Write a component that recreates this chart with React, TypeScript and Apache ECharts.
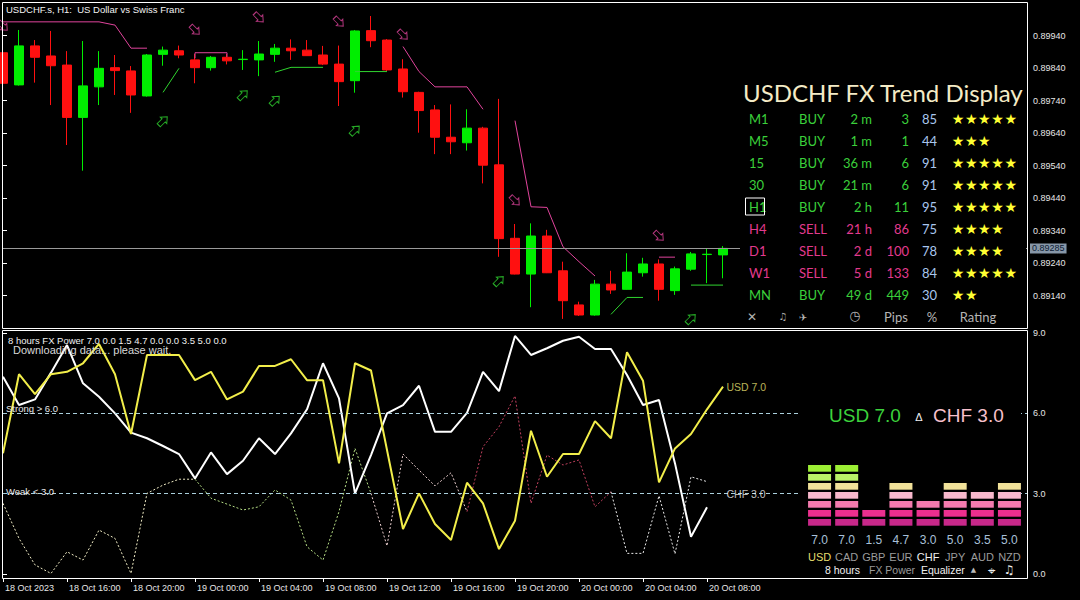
import React, { useEffect, useRef } from 'react';
import * as echarts from 'echarts';

// ---------- main price panel: USDCHF.s H1, 18 Oct 2023 12:00 onwards ----------
const timeTicks = [
  '18 Oct 2023', '18 Oct 16:00', '18 Oct 20:00', '19 Oct 00:00', '19 Oct 04:00', '19 Oct 08:00',
  '19 Oct 12:00', '19 Oct 16:00', '19 Oct 20:00', '20 Oct 00:00', '20 Oct 04:00', '20 Oct 08:00',
];
const TICK_STEP = 4; // one time label every 4 hourly bars
const SLOTS = 64; // bar slots across the chart width

// [open, close, low, high]
const candles: [number, number, number, number][] = [
  [0.89887, 0.89793, 0.89785, 0.89895],
  [0.89788, 0.89908, 0.89786, 0.89957],
  [0.89908, 0.89873, 0.89795, 0.89926],
  [0.89877, 0.89847, 0.89726, 0.89954],
  [0.89849, 0.89688, 0.89603, 0.89892],
  [0.89688, 0.89785, 0.89524, 0.89923],
  [0.89782, 0.89839, 0.89726, 0.89892],
  [0.89841, 0.89832, 0.89757, 0.8988],
  [0.89831, 0.89757, 0.89702, 0.89846],
  [0.89754, 0.8988, 0.89752, 0.89883],
  [0.89882, 0.89895, 0.89847, 0.89906],
  [0.89893, 0.8988, 0.8987, 0.89909],
  [0.89865, 0.89841, 0.89793, 0.89883],
  [0.89841, 0.89873, 0.89832, 0.89877],
  [0.89873, 0.89862, 0.89851, 0.89883],
  [0.89866, 0.89867, 0.89834, 0.89895],
  [0.89865, 0.89883, 0.89815, 0.89923],
  [0.89882, 0.89901, 0.89859, 0.89914],
  [0.89901, 0.89893, 0.89865, 0.89928],
  [0.89895, 0.89878, 0.89877, 0.89926],
  [0.8988, 0.89852, 0.89849, 0.89908],
  [0.89852, 0.89798, 0.89723, 0.89909],
  [0.89801, 0.89954, 0.89764, 0.89957],
  [0.89955, 0.89924, 0.89904, 0.9],
  [0.89926, 0.89834, 0.89831, 0.89929],
  [0.89837, 0.89767, 0.89749, 0.89867],
  [0.89765, 0.89709, 0.89641, 0.89767],
  [0.89711, 0.89627, 0.89575, 0.89726],
  [0.89627, 0.89613, 0.89575, 0.89728],
  [0.8961, 0.89655, 0.89586, 0.89713],
  [0.89655, 0.89541, 0.89485, 0.89659],
  [0.89542, 0.89315, 0.89259, 0.89745],
  [0.89316, 0.89206, 0.89205, 0.8936],
  [0.89206, 0.89323, 0.89104, 0.89362],
  [0.89323, 0.8921, 0.89209, 0.89342],
  [0.89216, 0.89124, 0.89068, 0.89244],
  [0.89111, 0.8908, 0.89077, 0.89121],
  [0.8908, 0.89175, 0.89078, 0.89188],
  [0.89175, 0.89157, 0.89145, 0.89216],
  [0.89159, 0.89212, 0.89158, 0.8927],
  [0.8921, 0.89237, 0.89198, 0.89256],
  [0.89237, 0.89159, 0.89124, 0.89251],
  [0.89155, 0.89222, 0.89142, 0.89229],
  [0.89221, 0.89268, 0.89216, 0.89274],
  [0.89266, 0.89267, 0.89178, 0.89285],
  [0.89265, 0.89285, 0.89193, 0.89292],
];

// trend-signal arrows: [bar, price]
const sellArrows: [number, number][] = [
  [0, 0.89969], [12, 0.89957], [16, 0.89995], [21, 0.89982], [25, 0.89942], [32, 0.89432], [41, 0.89323],
];
const buyArrows: [number, number][] = [
  [10, 0.89677], [15, 0.89757], [17, 0.8974], [22, 0.89648], [31, 0.89185], [43, 0.89068],
];

// trailing stop lines: segments of [bar, price]
const resistanceTrail: [number, number][][] = [
  [[0, 0.89982], [6, 0.89982], [7, 0.89972], [8, 0.89901], [9, 0.89901]],
  [[12, 0.8987], [12, 0.89887], [14, 0.89887], [14, 0.89874]],
  [[25, 0.89906], [26, 0.89829], [27, 0.89782], [29, 0.89782], [30, 0.89713]],
  [[32, 0.89678], [33, 0.89413], [34, 0.89411], [35, 0.8929], [36, 0.89244], [37, 0.892]],
  [[41, 0.89258], [42, 0.89258]],
];
const supportTrail: [number, number][][] = [
  [[10, 0.89765], [11, 0.89839]],
  [[17, 0.89827], [18, 0.89842], [20, 0.89842]],
  [[22, 0.89829], [24, 0.89829]],
  [[38, 0.89082], [39, 0.89134], [40, 0.89134]],
  [[43, 0.89172], [45, 0.89172]],
];

// ---------- trend display table ----------
const frames = ['M1', 'M5', '15', '30', 'H1', 'H4', 'D1', 'W1', 'MN'];
const signals = ['BUY', 'BUY', 'BUY', 'BUY', 'BUY', 'SELL', 'SELL', 'SELL', 'BUY'];
const ages = ['2 m', '1 m', '36 m', '21 m', '2 h', '21 h', '2 d', '5 d', '49 d'];
const pips = [3, 1, 6, 6, 11, 86, 100, 133, 449];
const percents = [85, 44, 91, 91, 95, 75, 78, 84, 30];
const ratings = [5, 3, 5, 5, 5, 4, 4, 5, 2];
const activeFrame = 'H1';

// ---------- FX power panel ----------
// strength of each currency per hourly bar (0..9)
const usdStrength = [
  4.51, 7.46, 6.72, 7.46, 7.55, 7.87, 8.59, 7.46, 5.23, 8.18, 8.18, 8.18, 7.24, 7.55, 6.52, 6.81,
  7.77, 7.77, 8.02, 7.24, 7.24, 4.13, 7.87, 7.6, 4.63, 1.68, 3.01, 1.87, 1.27, 3.41, 2.64, 0.93,
  1.99, 5.35, 3.63, 4.48, 4.48, 5.71, 5.07, 8.28, 7.22, 3.42, 4.69, 5.23, 6.15, 7.0,
];
const chfStrength = [
  7.37, 6.31, 6.52, 7.52, 8.55, 7.12, 6.62, 6.0, 5.28, 5.07, 4.78, 4.48, 3.57, 4.54, 3.73, 4.23,
  5.07, 4.48, 5.25, 6.15, 7.87, 6.56, 3.01, 4.44, 6.0, 6.31, 7.03, 5.31, 5.31, 6.02, 7.55, 6.83,
  8.89, 8.18, 8.43, 8.71, 8.86, 8.4, 8.4, 7.43, 6.31, 6.5, 4.13, 1.39, 2.49,
];
// thinner dotted strength traces: [bar, value]
const dottedPale: [number, number][] = [
  [0, 2.64], [1, 1.33], [2, 0.34], [3, 0.02], [4, 0.83], [5, 0.52], [6, 1.64], [7, 1.33], [8, 0.02],
  [9, 3.01], [10, 3.32], [11, 3.54], [12, 3.54],
];
const dottedGreen: [number, number][] = [
  [12, 3.54], [13, 2.83], [14, 2.61], [15, 2.39], [16, 2.51], [17, 3.14], [18, 2.76], [19, 1.02],
  [20, 0.52], [21, 2.33], [22, 4.69], [23, 3.01],
];
const dottedRose: [number, number][] = [
  [23, 3.01], [24, 1.05], [25, 4.48], [26, 3.88], [27, 3.29], [28, 3.78], [29, 2.33],
];
const dottedCrimson: [number, number][] = [
  [29, 2.33], [30, 4.75], [31, 5.5], [32, 6.65], [33, 2.64], [34, 4.44], [35, 4.07], [36, 4.26],
  [37, 2.51], [38, 3.07],
];
const dottedWhite: [number, number][] = [
  [38, 3.07], [39, 0.77], [40, 0.77], [41, 2.92], [42, 0.75], [43, 3.63], [44, 3.45],
];
const strongLevel = 6;
const weakLevel = 3;

// equalizer
const currencies = ['USD', 'CAD', 'GBP', 'EUR', 'CHF', 'JPY', 'AUD', 'NZD'];
const strengths = [7.0, 7.0, 1.5, 4.7, 3.0, 5.0, 3.5, 5.0];
const powerHeader = '8 hours FX Power 7.0 0.0 1.5 4.7 0.0 0.0 3.5 5.0 0.0';
const baseCcy = 'USD';
const quoteCcy = 'CHF';

// ---------- styling ----------
const BULL = '#00ee00';
const BEAR = '#ff1010';
const TRAIL_PINK = '#e0449c';
const TRAIL_GREEN = '#2fd42f';
const TBL_GREEN = '#3bd03b';
const TBL_PINK = '#e23a8e';
const TBL_BLUE = '#a9c6ee';
const STAR = '#ffff33';
const SANS = 'Liberation Sans';
const levelColors = ['#c8288a', '#ec2f8e', '#f47aae', '#f8b8cc', '#f2e29a', '#b9f267', '#9cef34'];

function txt(text: string, x: number, y: number, fill: string, font: string, align = 'left') {
  return {
    type: 'text',
    x,
    y,
    z: 30,
    silent: true,
    style: { text, fill, font, align, textAlign: align, verticalAlign: 'middle', textVerticalAlign: 'middle' },
  };
}

function buildGraphics() {
  const els: any[] = [];
  // panel frames
  els.push({ type: 'rect', silent: true, z: 30, shape: { x: 2.5, y: 2.5, width: 1025, height: 326 }, style: { fill: 'none', stroke: '#ffffff', lineWidth: 1 } });
  els.push({ type: 'rect', silent: true, z: 30, shape: { x: 2.5, y: 330.5, width: 1025, height: 248 }, style: { fill: 'none', stroke: '#ffffff', lineWidth: 1 } });
  // backdrops of the table and the equalizer box, they hide guides passing behind
  els.push({ type: 'rect', silent: true, z: 10, shape: { x: 740, y: 78, width: 286, height: 249 }, style: { fill: '#000000' } });
  els.push({ type: 'rect', silent: true, z: 10, shape: { x: 800, y: 392, width: 221, height: 185 }, style: { fill: '#000000' } });

  els.push(txt('USDCHF.s, H1:  US Dollar vs Swiss Franc', 6, 9.5, '#f2f2f2', `9.5px ${SANS}`));

  // trend display table
  els.push(txt('USDCHF FX Trend Display', 743, 92, '#f4ebc6', '24px Lato'));
  const tf = '13px Lato';
  frames.forEach((f, i) => {
    const y = 118.5 + 22 * i;
    const c = signals[i] === 'SELL' ? TBL_PINK : TBL_GREEN;
    els.push(txt(f, 749, y, c, tf));
    els.push(txt(signals[i], 799, y, c, tf));
    els.push(txt(ages[i], 872, y, c, tf, 'right'));
    els.push(txt(String(pips[i]), 909, y, c, tf, 'right'));
    els.push(txt(String(percents[i]), 922, y, TBL_BLUE, tf));
    for (let s = 0; s < ratings[i]; s++) {
      els.push(txt('★', 958 + 13.2 * s, y, STAR, '14px DejaVu Sans', 'center'));
    }
    if (f === activeFrame) {
      els.push({ type: 'rect', silent: true, z: 30, shape: { x: 745.5, y: y - 8.5, width: 19, height: 17 }, style: { fill: 'none', stroke: '#ffffff', lineWidth: 1 } });
    }
  });
  const fy = 316.5;
  const foot = '#b4b4b4';
  els.push(txt('✕', 752, fy, foot, '12px DejaVu Sans', 'center'));
  els.push(txt('♫', 783, fy, foot, '10px DejaVu Sans', 'center'));
  els.push(txt('✈', 803, fy + 1, foot, '10px DejaVu Sans', 'center'));
  els.push(txt('◷', 855, fy - 1, foot, '13px DejaVu Sans', 'center'));
  els.push(txt('Pips', 896, fy, foot, tf, 'center'));
  els.push(txt('%', 932, fy, foot, tf, 'center'));
  els.push(txt('Rating', 978, fy, foot, tf, 'center'));

  // FX power panel texts
  els.push(txt(powerHeader, 8, 340, '#f0f0f0', `9.5px ${SANS}`));
  els.push(txt('Downloading data... please wait.', 13, 350, '#d8d8d8', `11px ${SANS}`));
  els.push(txt(`Strong > ${strongLevel.toFixed(1)}`, 6, 408, '#e8e8e8', `9.5px ${SANS}`));
  els.push(txt(`Weak < ${weakLevel.toFixed(1)}`, 6, 491, '#e8e8e8', `9.5px ${SANS}`));

  const bi = currencies.indexOf(baseCcy);
  const qi = currencies.indexOf(quoteCcy);
  els.push(txt(`${baseCcy} ${strengths[bi].toFixed(1)}`, 829, 415, '#3cd23c', `19px ${SANS}`));
  els.push(txt('Δ', 919, 417, '#f0f0f0', `11px ${SANS}`, 'center'));
  els.push(txt(`${quoteCcy} ${strengths[qi].toFixed(1)}`, 933, 415, '#f8c0cc', `19px ${SANS}`));

  const ey = 570;
  els.push(txt('8 hours', 825, ey, '#f0f0f0', `10.5px ${SANS}`));
  els.push(txt('FX Power', 869, ey, '#9a9a9a', `10.5px ${SANS}`));
  els.push(txt('Equalizer', 921, ey, '#f0f0f0', `10.5px ${SANS}`));
  els.push(txt('▲', 973.5, ey, '#bbbbbb', '7px DejaVu Sans', 'center'));
  els.push(txt('⌖', 991, ey, '#f0f0f0', '13px DejaVu Sans', 'center'));
  els.push(txt('♫', 1009, ey, '#f0f0f0', '12px DejaVu Sans', 'center'));
  return els;
}

function dotted(data: [number, number][], color: string) {
  return {
    type: 'line',
    xAxisIndex: 1,
    yAxisIndex: 1,
    data,
    symbol: 'none',
    silent: true,
    lineStyle: { color, width: 1, type: [2, 2] },
    z: 3,
  };
}

function trail(seg: [number, number][], color: string) {
  return {
    type: 'line',
    xAxisIndex: 0,
    yAxisIndex: 0,
    data: seg,
    symbol: 'none',
    silent: true,
    lineStyle: { color, width: 1 },
    z: 4,
  };
}

const ARROW = 'path://M0,3 L8,3 L8,0 L14,6 L8,12 L8,9 L0,9 Z';

function buildOption(): any {
  const lastIdx = candles.length - 1;
  const lastClose = candles[lastIdx][1];
  const showTick = (index: number) => index % TICK_STEP === 0 && index / TICK_STEP < timeTicks.length;
  const slotNames = Array.from({ length: SLOTS + 1 }, (_, i) => String(i));

  return {
    animation: false,
    backgroundColor: '#000000',
    grid: [
      { left: 3, top: 3, width: 1024, height: 325 },
      { left: 3, top: 333, width: 1024, height: 241 },
      { left: 806, top: 465, width: 217, height: 63 },
    ],
    xAxis: [
      { type: 'value', gridIndex: 0, min: 0, max: SLOTS, show: false },
      { type: 'value', gridIndex: 1, min: 0, max: SLOTS, show: false },
      {
        type: 'category',
        gridIndex: 1,
        position: 'bottom',
        offset: 4,
        boundaryGap: false,
        data: slotNames,
        axisLine: { show: false },
        axisTick: { show: true, interval: showTick, length: 4, lineStyle: { color: '#ffffff' } },
        axisLabel: {
          interval: showTick,
          align: 'left',
          margin: 5,
          padding: [0, 0, 0, 2],
          color: '#e6e6e6',
          fontSize: 9,
          fontFamily: SANS,
          formatter: (_v: string, index: number) => timeTicks[index / TICK_STEP] ?? '',
        },
        splitLine: { show: false },
      },
      {
        type: 'category',
        gridIndex: 2,
        data: currencies,
        axisLine: { show: false },
        axisTick: { show: false },
        axisLabel: {
          interval: 0,
          hideOverlap: false,
          margin: 3,
          fontFamily: SANS,
          formatter: (v: string, i: number) => {
            const tag = v === baseCcy ? 'b' : v === quoteCcy ? 'q' : 'o';
            return `{v|${strengths[i].toFixed(1)}}\n{${tag}|${v}}`;
          },
          rich: {
            v: { color: '#a9c0d9', fontSize: 12, fontFamily: SANS, lineHeight: 17 },
            b: { color: '#e6de6e', fontSize: 11, fontFamily: SANS, lineHeight: 17 },
            q: { color: '#f0f0f0', fontSize: 11, fontFamily: SANS, lineHeight: 17 },
            o: { color: '#9c9c9c', fontSize: 11, fontFamily: SANS, lineHeight: 17 },
          },
        },
        z: 20,
      },
    ],
    yAxis: [
      {
        type: 'value',
        gridIndex: 0,
        position: 'right',
        min: 0.8904,
        max: 0.9004,
        interval: 0.001,
        axisLine: { show: false },
        splitLine: { show: false },
        axisTick: { show: true, length: 4, lineStyle: { color: '#ffffff' } },
        axisLabel: {
          margin: 6,
          color: '#e6e6e6',
          fontSize: 9,
          fontFamily: SANS,
          showMinLabel: false,
          showMaxLabel: false,
          formatter: (v: number) => v.toFixed(5),
        },
      },
      {
        type: 'value',
        gridIndex: 1,
        position: 'right',
        min: 0,
        max: 9,
        interval: 3,
        axisLine: { show: false },
        splitLine: { show: false },
        axisTick: { show: true, length: 4, lineStyle: { color: '#ffffff' } },
        axisLabel: { margin: 6, color: '#e6e6e6', fontSize: 9, fontFamily: SANS, formatter: (v: number) => v.toFixed(1) },
      },
      { type: 'value', gridIndex: 2, min: 0, max: 7, show: false },
    ],
    graphic: buildGraphics(),
    series: [
      // last traded price guide
      {
        type: 'line',
        xAxisIndex: 0,
        yAxisIndex: 0,
        data: [[lastIdx, lastClose]],
        symbol: 'none',
        silent: true,
        lineStyle: { width: 0 },
        z: 2,
        markLine: {
          silent: true,
          precision: 5,
          symbol: ['none', 'none'],
          lineStyle: { color: '#9a9a9a', width: 1, type: 'solid' },
          label: {
            show: true,
            position: 'end',
            distance: 3,
            formatter: () => lastClose.toFixed(5),
            backgroundColor: '#8797a8',
            color: '#0c1a33',
            fontSize: 9,
            fontFamily: SANS,
            padding: [1, 2, 0, 2],
          },
          data: [{ yAxis: lastClose }],
        },
      },
      {
        type: 'candlestick',
        xAxisIndex: 0,
        yAxisIndex: 0,
        barWidth: 10,
        encode: { x: 0, y: [1, 2, 3, 4] },
        data: candles.map((c, i) => [i, c[0], c[1], c[2], c[3]]),
        itemStyle: { color: BULL, color0: BEAR, borderColor: BULL, borderColor0: BEAR, borderWidth: 1 },
        silent: true,
        z: 3,
      },
      ...resistanceTrail.map((s) => trail(s, TRAIL_PINK)),
      ...supportTrail.map((s) => trail(s, TRAIL_GREEN)),
      {
        type: 'scatter',
        xAxisIndex: 0,
        yAxisIndex: 0,
        data: sellArrows,
        symbol: ARROW,
        symbolSize: [12, 9],
        symbolRotate: -45,
        silent: true,
        itemStyle: { color: 'rgba(0,0,0,0)', borderColor: TRAIL_PINK, borderWidth: 1 },
        z: 5,
      },
      {
        type: 'scatter',
        xAxisIndex: 0,
        yAxisIndex: 0,
        data: buyArrows,
        symbol: ARROW,
        symbolSize: [12, 9],
        symbolRotate: 45,
        silent: true,
        itemStyle: { color: 'rgba(0,0,0,0)', borderColor: TRAIL_GREEN, borderWidth: 1 },
        z: 5,
      },
      // FX power traces
      dotted(dottedPale, '#efebc4'),
      dotted(dottedGreen, '#b4dc84'),
      dotted(dottedRose, '#e8cccc'),
      dotted(dottedCrimson, '#c0405e'),
      dotted(dottedWhite, '#e8e8e8'),
      {
        type: 'line',
        xAxisIndex: 1,
        yAxisIndex: 1,
        data: chfStrength.map((v, i) => [i, v]),
        symbol: 'none',
        silent: true,
        lineStyle: { color: '#ffffff', width: 2 },
        z: 4,
      },
      {
        type: 'line',
        xAxisIndex: 1,
        yAxisIndex: 1,
        data: usdStrength.map((v, i) => [i, v]),
        symbol: 'none',
        silent: true,
        lineStyle: { color: '#f2ee4a', width: 2 },
        z: 5,
        markLine: {
          silent: true,
          symbol: ['none', 'none'],
          label: { show: false },
          lineStyle: { color: '#a9cfdc', width: 1, type: [4, 3] },
          data: [{ yAxis: strongLevel }, { yAxis: weakLevel }],
        },
      },
      {
        type: 'scatter',
        xAxisIndex: 1,
        yAxisIndex: 1,
        symbolSize: 1,
        silent: true,
        itemStyle: { color: 'rgba(0,0,0,0)' },
        label: { show: true, position: 'right', distance: 3, fontSize: 10.5, fontFamily: SANS },
        data: [
          {
            value: [usdStrength.length - 1, strengths[currencies.indexOf(baseCcy)]],
            label: { formatter: `${baseCcy} ${strengths[currencies.indexOf(baseCcy)].toFixed(1)}`, color: '#e8e070' },
          },
          {
            value: [usdStrength.length - 1, strengths[currencies.indexOf(quoteCcy)]],
            label: { formatter: `${quoteCcy} ${strengths[currencies.indexOf(quoteCcy)].toFixed(1)}`, color: '#f0f0f0' },
          },
        ],
        z: 6,
      },
      // equalizer columns
      {
        type: 'custom',
        xAxisIndex: 3,
        yAxisIndex: 2,
        silent: true,
        z: 20,
        encode: { x: 0, y: 1 },
        data: strengths.map((v, i) => [i, v]),
        renderItem: (_params: any, api: any) => {
          const idx = api.value(0);
          const v = api.value(1);
          const base = api.coord([idx, 0]);
          const children: any[] = [];
          const segs = Math.ceil(v);
          for (let k = 0; k < segs; k++) {
            const top = api.coord([idx, k + 1])[1];
            const bot = api.coord([idx, k])[1];
            children.push({
              type: 'rect',
              shape: { x: base[0] - 11.5, y: top, width: 23, height: bot - top - 2.3 },
              style: { fill: levelColors[k] },
            });
          }
          return { type: 'group', children };
        },
      },
    ],
  };
}

export default function App() {
  const ref = useRef<HTMLDivElement>(null);
  useEffect(() => {
    if (!ref.current) return;
    const chart = echarts.init(ref.current, null, { renderer: 'svg' });
    chart.setOption(buildOption());
    return () => chart.dispose();
  }, []);
  return (
    <div
      ref={ref}
      style={{ position: 'fixed', left: 0, top: 0, width: 1080, height: 600, background: '#000000' }}
    />
  );
}
